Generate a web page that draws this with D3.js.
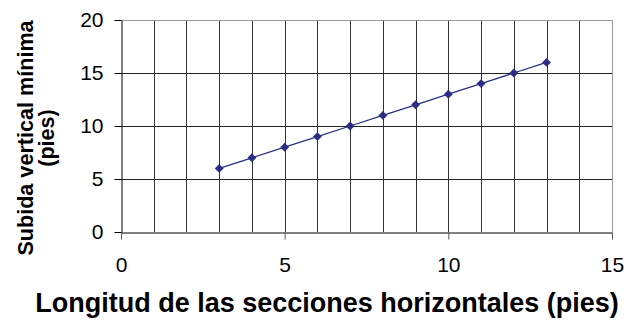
<!DOCTYPE html>
<html><head><meta charset="utf-8">
<script src="https://cdn.jsdelivr.net/npm/d3@7"></script>
<style>body{margin:0;background:#fff}svg{display:block}text{font-family:"Liberation Sans",Arial,sans-serif}</style>
</head><body>
<script>
const xValues = [3,4,5,6,7,8,9,10,11,12,13];
const yValues = [6,7,8,9,10,11,12,13,14,15,16];
const xTicks = [0,5,10,15];
const yTicks = [0,5,10,15,20];
const xTitle = "Longitud de las secciones horizontales (pies)";
const yTitle = ["Subida vertical mínima", "(pies)"];

const W=641,H=320;
const m={l:121,r:29,t:20,b:88};
const svg=d3.select("body").append("svg").attr("width",W).attr("height",H);
const x=d3.scaleLinear().domain([0,15]).range([m.l,W-m.r]);
const y=d3.scaleLinear().domain([0,20]).range([H-m.b,m.t]);
const g=svg.append("g");
g.selectAll(".vg").data(d3.range(1,15)).enter().append("line")
 .attr("x1",d=>Math.round(x(d))+0.5).attr("x2",d=>Math.round(x(d))+0.5)
 .attr("y1",y(20)).attr("y2",y(0)).attr("stroke","#333").attr("stroke-width",1);
g.selectAll(".hg").data([5,10,15]).enter().append("line")
 .attr("x1",x(0)).attr("x2",x(15))
 .attr("y1",d=>Math.round(y(d))+0.5).attr("y2",d=>Math.round(y(d))+0.5).attr("stroke","#222");
g.append("line").attr("x1",x(0)).attr("x2",x(15)).attr("y1",y(20)+0.5).attr("y2",y(20)+0.5).attr("stroke","#999");
g.append("line").attr("x1",x(15)+0.5).attr("x2",x(15)+0.5).attr("y1",y(20)).attr("y2",y(0)).attr("stroke","#999");

const xa=svg.append("g").attr("transform",`translate(0,${Math.round(y(0))+0.5})`)
 .call(d3.axisBottom(x).tickValues(xTicks).tickSize(7).tickPadding(18).tickSizeOuter(0));
const ya=svg.append("g").attr("transform",`translate(${Math.round(x(0))+0.5},0)`)
 .call(d3.axisLeft(y).tickValues(yTicks).tickSize(7).tickPadding(11).tickSizeOuter(0));
[xa,ya].forEach(a=>{a.select(".domain").attr("stroke","#000");a.selectAll(".tick line").attr("stroke","#000");
 a.selectAll("text").attr("font-size",21).attr("fill","#000").attr("font-family","'Liberation Sans',Arial,sans-serif");});
xa.selectAll(".tick line").attr("stroke","#555");

const col="#2B2F84";
svg.append("path").datum(xValues.map((d,i)=>[d,yValues[i]]))
 .attr("d",d3.line().x(d=>x(d[0])).y(d=>y(d[1]))).attr("fill","none").attr("stroke",col).attr("stroke-width",1.3);
svg.selectAll(".pt").data(xValues.map((d,i)=>[d,yValues[i]])).enter().append("path")
 .attr("d",d3.symbol(d3.symbolDiamond2,50)).attr("transform",d=>`translate(${x(d[0])},${y(d[1])})`).attr("fill",col);

svg.append("text").attr("x",327).attr("y",312).attr("text-anchor","middle").attr("font-size",27).attr("font-weight","bold").text(xTitle);
const yt=svg.append("text").attr("transform",`translate(0,138) rotate(-90)`).attr("text-anchor","middle").attr("font-size",21.6).attr("font-weight","bold");
yt.append("tspan").attr("x",0).attr("y",33).text(yTitle[0]);
yt.append("tspan").attr("x",0).attr("y",54).text(yTitle[1]);
</script>
</body></html>
